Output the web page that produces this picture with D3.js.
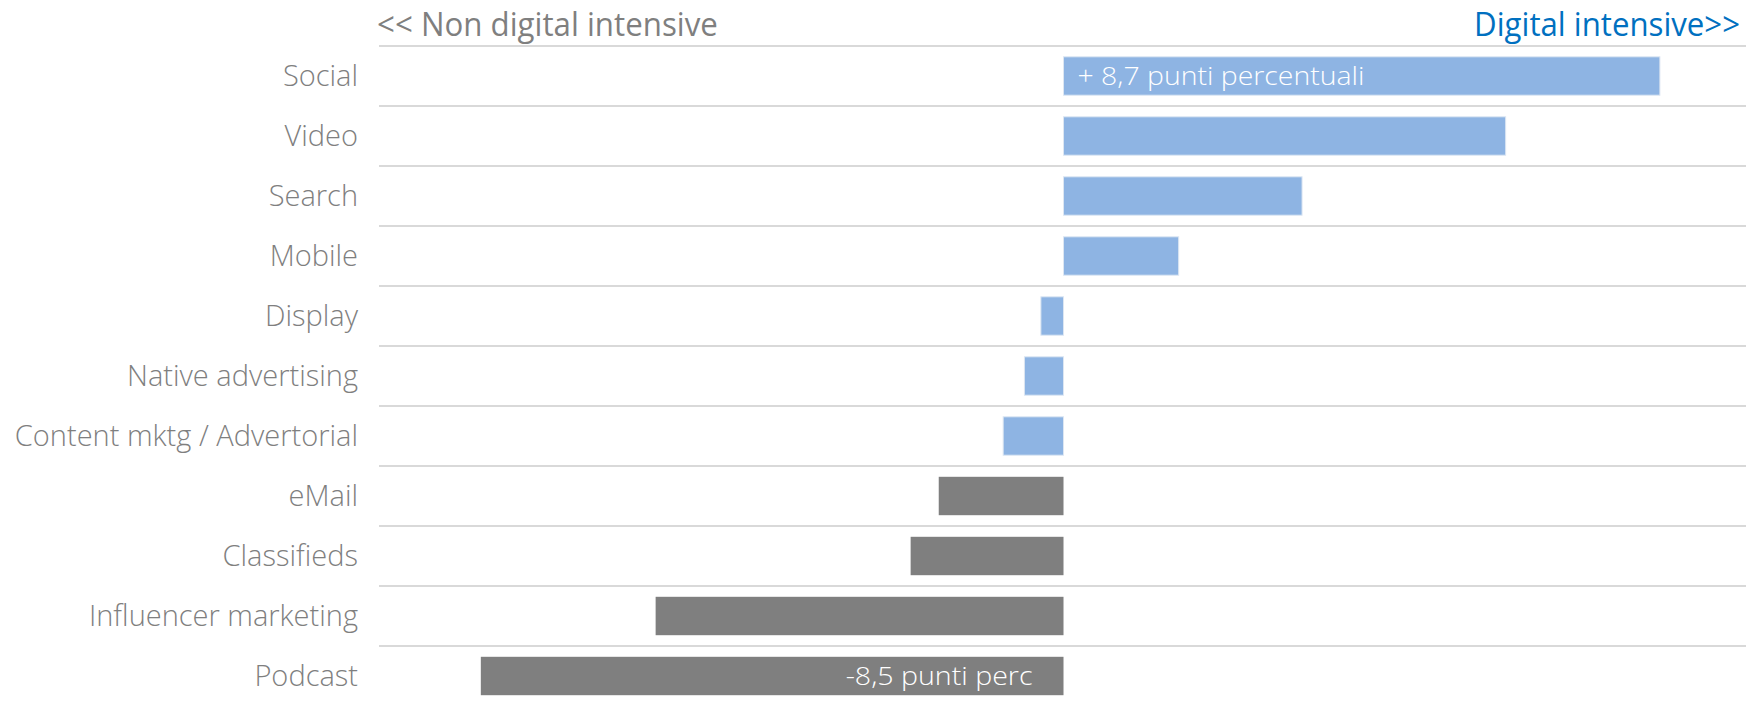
<!DOCTYPE html>
<html>
<head>
<meta charset="utf-8">
<script src="https://cdn.jsdelivr.net/npm/d3@7"></script>
<style>
  html, body { margin: 0; padding: 0; background: #fff; }
  svg { display: block; }
  text { font-family: "Open Sans", "Noto Sans", sans-serif; }
</style>
</head>
<body>
<svg id="chart" width="1746" height="703"></svg>
<script>
// Variation in share by channel, percentage points (digital intensive vs non digital intensive)
const categories = ["Social", "Video", "Search", "Mobile", "Display", "Native advertising",
  "Content mktg / Advertorial", "eMail", "Classifieds", "Influencer marketing", "Podcast"];
const values = [8.7, 6.45, 3.48, 1.68, -0.33, -0.57, -0.88, -1.82, -2.23, -5.95, -8.5];
const barLabels = ["+ 8,7 punti percentuali", "", "", "", "", "", "", "", "", "", "-8,5 punti perc"];
const headerLeft = "<< Non digital intensive";
const headerRight = "Digital intensive>>";

const svg = d3.select("#chart");
const W = 1746, H = 703;

const x = d3.scaleLinear().domain([-10, 10]).range([378, 1749]);
const y = d3.scaleBand().domain(categories).range([46, 706])
  .paddingInner(0.36).paddingOuter(0.18);
const step = y.step();
const rowTop = c => y(c) - step * y.paddingOuter();

// row separators
svg.append("g").selectAll("line").data(categories).join("line")
  .attr("x1", 379).attr("x2", W)
  .attr("y1", c => rowTop(c)).attr("y2", c => rowTop(c))
  .attr("stroke", "#d9d9d9").attr("stroke-width", 2);

// bars
svg.append("g").selectAll("rect").data(categories).join("rect")
  .attr("x", (c, i) => x(Math.min(0, values[i])))
  .attr("width", (c, i) => Math.abs(x(values[i]) - x(0)))
  .attr("y", c => y(c))
  .attr("height", y.bandwidth())
  .attr("fill", (c, i) => i < 7 ? "#8eb4e3" : "#7f7f7f")
  .attr("stroke", (c, i) => i < 7 ? "#dce6f2" : "none")
  .attr("stroke-width", 1);

// category labels
svg.append("g").selectAll("text").data(categories).join("text")
  .attr("x", 358)
  .attr("y", c => y(c) + y.bandwidth() / 2)
  .attr("dy", "0.36em")
  .attr("text-anchor", "end")
  .attr("font-size", 29)
  .attr("font-weight", 300)
  .attr("fill", "#7f7f7f")
  .text(c => c);

// horizontally condensed text: scale glyphs so the run is `width` px wide
function condensed(parent, str, tx, ty, anchor, width, opts) {
  const g = parent.append("g");
  const t = g.append("text")
    .attr("text-anchor", anchor)
    .attr("dy", opts.dy || null)
    .attr("font-size", opts.size)
    .attr("font-weight", opts.weight)
    .attr("fill", opts.fill)
    .text(str);
  const natural = t.node().getComputedTextLength();
  g.attr("transform", `translate(${tx},${ty}) scale(${width / natural},1)`);
  return g;
}

// in-bar value notes
categories.forEach((c, i) => {
  if (!barLabels[i]) return;
  const cy = y(c) + y.bandwidth() / 2;
  const opts = { size: 26, weight: 300, fill: "#ffffff", dy: "0.36em" };
  if (values[i] >= 0) condensed(svg, barLabels[i], x(0) + 14, cy, "start", 287, opts);
  else condensed(svg, barLabels[i], x(0) - 31, cy, "end", 187, opts);
});

// header captions
condensed(svg, headerLeft, 377, 36, "start", 341, { size: 33, weight: 400, fill: "#7f7f7f" });
condensed(svg, headerRight, 1740, 36, "end", 266, { size: 33, weight: 400, fill: "#0070c0" });
</script>
</body>
</html>
